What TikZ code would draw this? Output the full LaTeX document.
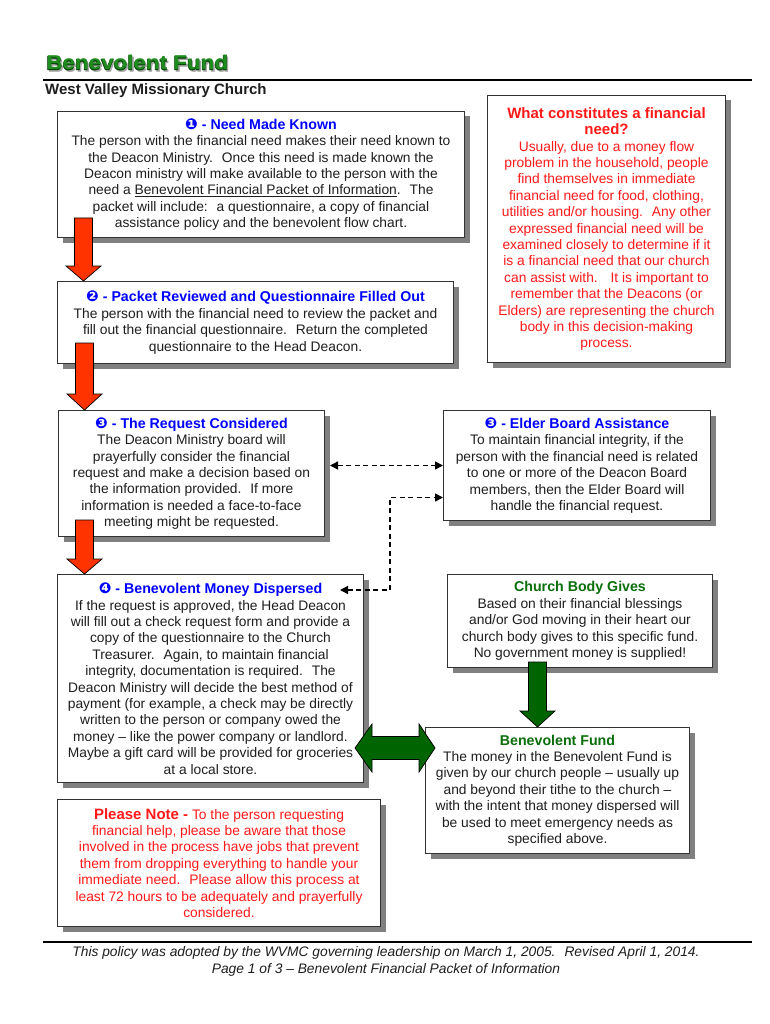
\documentclass[tikz,border=0pt]{standalone}
\usepackage{fontspec}
\setmainfont{Liberation Sans}
\newfontfamily\dingfont{DejaVu Sans}
\newfontfamily\headfont{Liberation Sans Bold}[FakeBold=2.5]
\usetikzlibrary{shadows,arrows.meta}
\definecolor{tblue}{RGB}{0,0,255}
\definecolor{tred}{RGB}{255,25,25}
\definecolor{tgreen}{RGB}{10,110,10}
\definecolor{hgreen}{RGB}{30,140,30}
\definecolor{hdark}{RGB}{10,70,10}
\definecolor{arrred}{RGB}{255,51,0}
\definecolor{arrgreen}{RGB}{0,100,0}
\definecolor{bodytxt}{RGB}{30,30,30}
\definecolor{shade}{RGB}{128,128,128}
\definecolor{boxline}{RGB}{50,50,50}
\newcommand{\dg}[1]{{\dingfont\fontsize{15}{15}\selectfont #1}}
\newcommand{\ttl}[1]{{\bfseries\color{tblue}\fontsize{14.2}{16.4}\selectfont #1}}
\newcommand{\gttl}[1]{{\bfseries\color{tgreen}\fontsize{14.2}{16.4}\selectfont #1}}
\newcommand{\rttl}[1]{{\bfseries\fontsize{15}{17}\selectfont #1}}
\newcommand{\downblock}[5]{%
  \draw[#1] (#2-9,#3) -- (#2+9,#3) -- (#2+9,#4) -- (#2+17.5,#4) -- (#2,#5) -- (#2-17.5,#4) -- (#2-9,#4) -- cycle;}
\tikzset{
  box/.style={draw=boxline, line width=1pt, fill=white, anchor=north west,
    inner sep=0pt, align=center, text=bodytxt,
    font=\fontsize{13.8}{16.4}\selectfont,
    drop shadow={shadow xshift=5pt, shadow yshift=-5pt, fill=shade, opacity=1}},
  redtext/.style={text=tred},
  dconn/.style={line width=1.4pt, dash pattern=on 5pt off 3.5pt,
    {Triangle[length=8pt,width=8pt]}-{Triangle[length=8pt,width=8pt]}},
  blockred/.style={fill=arrred, draw=black, line width=0.7pt},
  blockgreen/.style={fill=arrgreen, draw=black, line width=0.7pt},
}
\begin{document}
\begin{tikzpicture}[x=1pt,y=-1pt]
\useasboundingbox[fill=white] (0,0) rectangle (770,1024);

% heading
\node[anchor=base west, inner sep=0pt, text=shade!70, font=\headfont\fontsize{20}{20}\selectfont, xscale=1.12, transform shape] (titleshadow) at (47.5,71.5) {Benevolent Fund};
\node[anchor=base west, inner sep=0pt, text=hdark, font=\headfont\fontsize{20}{20}\selectfont, xscale=1.12, transform shape] (titleouter) at (46,70) {Benevolent Fund};
\node[anchor=base west, inner sep=0pt, text=hgreen, font=\bfseries\fontsize{20}{20}\selectfont, xscale=1.12, transform shape] (title) at (46.3,70) {Benevolent Fund};
\draw[line width=1.5pt] (43,80) -- (752,80);
\node[anchor=west, inner sep=0pt, font=\bfseries\fontsize{15}{18}\selectfont, text=bodytxt] (church) at (45,91) {West Valley Missionary Church};

% boxes
\node[box, minimum width=407pt, minimum height=126pt] (b1) at (57,111) {%
\ttl{\dg{❶} - Need Made Known}\\
The person with the financial need makes their need known to\\
the Deacon Ministry.~ Once this need is made known the\\
Deacon ministry will make available to the person with the\\
need a \underline{Benevolent Financial Packet of Information}.~ The\\
packet will include:~ a questionnaire, a copy of financial\\
assistance policy and the benevolent flow chart.};

\node[box, redtext, minimum width=238pt, minimum height=267pt] (rb) at (487,95) {%
\rttl{What constitutes a financial}\\
\rttl{need?}\\
Usually, due to a money flow\\
problem in the household, people\\
find themselves in immediate\\
financial need for food, clothing,\\
utilities and/or housing.~ Any other\\
expressed financial need will be\\
examined closely to determine if it\\
is a financial need that our church\\
can assist with.~~ It is important to\\
remember that the Deacons (or\\
Elders) are representing the church\\
body in this decision-making\\
process.};

\node[box, minimum width=396pt, minimum height=82pt] (b2) at (57,281) {%
\ttl{\dg{❷} - Packet Reviewed and Questionnaire Filled Out}\\
The person with the financial need to review the packet and\\
fill out the financial questionnaire.~ Return the completed\\
questionnaire to the Head Deacon.};

\node[box, minimum width=266pt, minimum height=126pt] (b3) at (58,410) {%
\ttl{\dg{❸} - The Request Considered}\\
The Deacon Ministry board will\\
prayerfully consider the financial\\
request and make a decision based on\\
the information provided.~ If more\\
information is needed a face-to-face\\
meeting might be requested.};

\node[box, minimum width=267pt, minimum height=110pt] (eb) at (443,410) {%
\ttl{\dg{❸} - Elder Board Assistance}\\
To maintain financial integrity, if the\\
person with the financial need is related\\
to one or more of the Deacon Board\\
members, then the Elder Board will\\
handle the financial request.};

\node[box, minimum width=306pt, minimum height=208pt] (b4) at (57,574) {%
\ttl{\dg{❹} - Benevolent Money Dispersed}\\
If the request is approved, the Head Deacon\\
will fill out a check request form and provide a\\
copy of the questionnaire to the Church\\
Treasurer.~ Again, to maintain financial\\
integrity, documentation is required.~ The\\
Deacon Ministry will decide the best method of\\
payment (for example, a check may be directly\\
written to the person or company owed the\\
money – like the power company or landlord.\\
Maybe a gift card will be provided for groceries\\
at a local store.};

\node[box, minimum width=265pt, minimum height=93pt] (cb) at (447,574) {%
\gttl{Church Body Gives}\\
Based on their financial blessings\\
and/or God moving in their heart our\\
church body gives to this specific fund.\\
No government money is supplied!};

\node[box, minimum width=264pt, minimum height=126pt] (bf) at (425,727) {%
\gttl{Benevolent Fund}\\
The money in the Benevolent Fund is\\
given by our church people – usually up\\
and beyond their tithe to the church –\\
with the intent that money dispersed will\\
be used to meet emergency needs as\\
specified above.};

\node[box, redtext, minimum width=323pt, minimum height=127pt] (pn) at (57,799) {%
\rttl{Please Note -} To the person requesting\\
financial help, please be aware that those\\
involved in the process have jobs that prevent\\
them from dropping everything to handle your\\
immediate need.~ Please allow this process at\\
least 72 hours to be adequately and prayerfully\\
considered.};

% block arrows
\downblock{blockred}{83.5}{218}{266}{281}
\downblock{blockred}{84.5}{343}{394}{410}
\downblock{blockred}{84.5}{520}{559}{574}
\downblock{blockgreen}{537.5}{662}{711}{727}
\draw[blockgreen] (355,748) -- (372,724) -- (372,736.5) -- (419,736.5) -- (419,724)
  -- (435,748) -- (419,772) -- (419,759.5) -- (372,759.5) -- (372,772) -- cycle;

% dashed connectors
\coordinate (d1s) at ([xshift=5pt]b3.east);
\draw[dconn] (d1s |- eb.west) -- (eb.west);
\coordinate (t4) at (340,590);
\draw[dconn] (t4) -- ++(50,0) |- ([yshift=-32pt]eb.west);

% footer
\draw[line width=1.5pt] (43,942) -- (752,942);
\node[align=center, inner sep=0pt, text=bodytxt, font=\itshape\fontsize{13.8}{17}\selectfont] (foot) at (386,961.5) {%
This policy was adopted by the WVMC governing leadership on March 1, 2005.~ Revised April 1, 2014.\\
Page 1 of 3 – Benevolent Financial Packet of Information};
\end{tikzpicture}
\end{document}
